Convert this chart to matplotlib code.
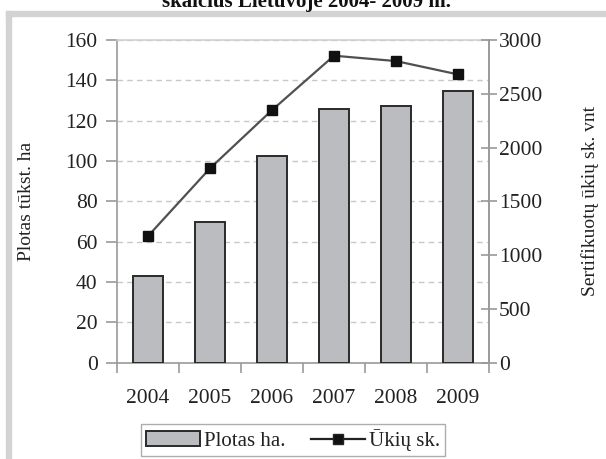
import matplotlib
matplotlib.use("Agg")
import numpy as np
import matplotlib.pyplot as plt
from matplotlib.patches import Rectangle
from matplotlib.lines import Line2D

years = ["2004", "2005", "2006", "2007", "2008", "2009"]
plotas = [43.2, 69.7, 102.4, 125.7, 127.3, 134.5]      # tūkst. ha
ukiai = [1177, 1807, 2348, 2854, 2804, 2680]            # ūkių sk.

plt.rcParams["font.family"] = ["Liberation Serif", "DejaVu Serif"]

fig = plt.figure(figsize=(6.06, 4.59), dpi=100)

# pilkas rėmelis (iškirptas paveikslas)
fig.patches.append(Rectangle((6 / 606, 0), 5 / 606, (459 - 11) / 459,
                             transform=fig.transFigure, color="#d3d3d3", zorder=0))
fig.patches.append(Rectangle((6 / 606, (459 - 16) / 459), 1, 5 / 459,
                             transform=fig.transFigure, color="#d3d3d3", zorder=0))

fig.text(0.505, 1 - 7 / 459, "skaičius Lietuvoje 2004- 2009 m.", ha="center",
         va="baseline", fontsize=15, fontweight="bold", color="#111111")

ax = fig.add_axes([117 / 606, 96.3 / 459, 372 / 606, 322.7 / 459])
x = np.arange(len(years))

ax.bar(x, plotas, width=0.49, color="#bbbcbf", edgecolor="#2a2a2a",
       linewidth=1.4, zorder=3)
ax.set_xlim(-0.5, len(years) - 0.5)
ax.set_ylim(0, 160)
ax.set_yticks(np.arange(0, 161, 20))
ax.yaxis.grid(True, linestyle=(0, (4, 3)), color="#c8c8c8", linewidth=1.0, zorder=0)
ax.set_xticks(x)
ax.set_xticklabels(years)
ax.set_xticks(np.arange(-0.5, len(years)), minor=True)
ax.tick_params(axis="x", which="major", length=0, pad=19, labelsize=15.5,
               labelcolor="#222222")
ax.tick_params(axis="x", which="minor", length=7, color="#999999", width=1.2)
ax.tick_params(axis="y", length=8, color="#999999", width=1.2, labelsize=15.5,
               labelcolor="#222222", pad=6)

for s in ["left", "bottom", "right"]:
    ax.spines[s].set_color("#9a9a9a")
    ax.spines[s].set_linewidth(1.2)
ax.spines["top"].set_color("#d0d0d0")
ax.spines["top"].set_linewidth(1.2)
ax.set_ylabel("Plotas tūkst. ha", fontsize=14, color="#222222", labelpad=22)

ax2 = ax.twinx()
ax2.plot(x, ukiai, color="#505050", linewidth=1.6, marker="s", markersize=7,
         markerfacecolor="#111111", markeredgecolor="#111111", zorder=4)
ax2.set_ylim(0, 3000)
ax2.set_yticks(np.arange(0, 3001, 500))
ax2.tick_params(axis="y", direction="inout", length=12, color="#999999", width=1.2,
                labelsize=15.5, labelcolor="#222222", pad=1)
for s in ["left", "bottom", "top"]:
    ax2.spines[s].set_visible(False)
ax2.spines["right"].set_color("#9a9a9a")
ax2.spines["right"].set_linewidth(1.2)
ax2.set_ylabel("Sertifikuotų ūkių sk. vnt", fontsize=14, color="#222222", labelpad=28)

handles = [Rectangle((0, 0), 1, 1, facecolor="#bbbcbf", edgecolor="#2a2a2a", linewidth=1.4),
           Line2D([], [], color="#222222", linewidth=1.6, marker="s", markersize=7,
                  markerfacecolor="#111111")]
leg = fig.legend(handles, ["Plotas ha.", "Ūkių sk."], loc="center",
                 bbox_to_anchor=(293 / 606, 1 - 440 / 459), ncol=2, fontsize=15,
                 frameon=True, fancybox=False, edgecolor="#999999",
                 handlelength=2.6, handletextpad=0.2, columnspacing=1.2,
                 borderpad=0.25, labelcolor="#222222")
leg.get_frame().set_linewidth(1.0)

fig.savefig("out.png", dpi=100)
